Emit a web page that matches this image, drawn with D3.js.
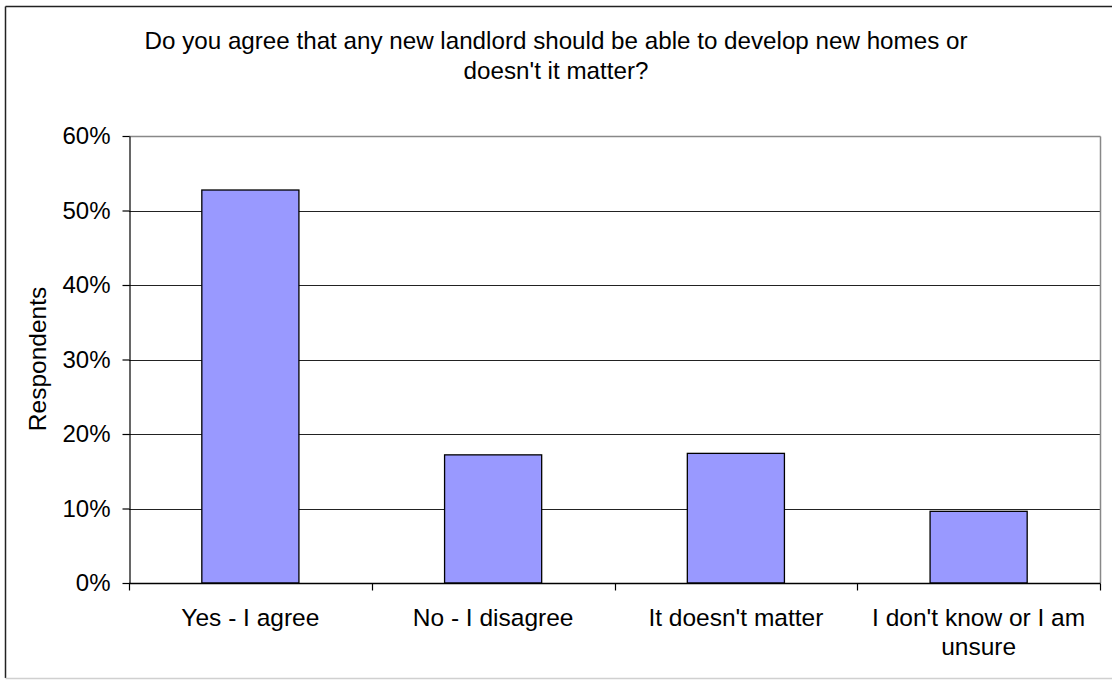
<!DOCTYPE html>
<html>
<head>
<meta charset="utf-8">
<script src="https://cdn.jsdelivr.net/npm/d3@7"></script>
<style>
  html, body { margin: 0; padding: 0; background: #fff; }
  svg { display: block; font-family: "Liberation Sans", Arial, sans-serif; }
</style>
</head>
<body>
<svg id="chart" width="1112" height="680"></svg>
<script>
// Survey responses (share of respondents)
const categories = [
  ["Yes - I agree"],
  ["No - I disagree"],
  ["It doesn't matter"],
  ["I don't know or I am", "unsure"]
];
const values = [0.5275, 0.172, 0.174, 0.0962];
const yTicks = [0, 0.1, 0.2, 0.3, 0.4, 0.5, 0.6];
const titleLines = [
  "Do you agree that any new landlord should be able to develop new homes or",
  "doesn't it matter?"
];
const yLabel = "Respondents";

const svg = d3.select("#chart");
const W = 1112, H = 680;
const plot = { left: 129, right: 1100, top: 136, bottom: 583 };

// outer frame
svg.append("line").attr("x1", 5.5).attr("x2", W).attr("y1", 6.5).attr("y2", 6.5)
  .attr("stroke", "#222").attr("stroke-width", 1.5);
svg.append("line").attr("x1", 5.5).attr("x2", 5.5).attr("y1", 6.5).attr("y2", 678)
  .attr("stroke", "#222").attr("stroke-width", 1.5);
svg.append("line").attr("x1", 5.5).attr("x2", W).attr("y1", 678.5).attr("y2", 678.5)
  .attr("stroke", "#d0d0d0").attr("stroke-width", 1.5);

// title
svg.append("text")
  .attr("x", 556).attr("y", 49)
  .attr("text-anchor", "middle")
  .attr("font-size", 24.2)
  .attr("fill", "#000")
  .selectAll("tspan").data(titleLines).join("tspan")
  .attr("x", 556).attr("dy", (d, i) => i === 0 ? 0 : 30)
  .text(d => d);

const x = d3.scaleBand()
  .domain(categories.map((d, i) => i))
  .range([plot.left, plot.right])
  .paddingInner(0.6).paddingOuter(0.3);

const xBoundary = d3.scaleLinear()
  .domain([0, categories.length])
  .range([plot.left, plot.right]);

const y = d3.scaleLinear().domain([0, 0.6]).range([plot.bottom, plot.top]);

// gridlines
svg.append("g")
  .selectAll("line").data(yTicks.filter(t => t > 0 && t < 0.6)).join("line")
  .attr("x1", plot.left).attr("x2", plot.right)
  .attr("y1", d => Math.round(y(d)) + 0.5).attr("y2", d => Math.round(y(d)) + 0.5)
  .attr("stroke", "#222").attr("stroke-width", 1.2);

// plot area top and right edges
svg.append("line")
  .attr("x1", plot.left).attr("x2", plot.right + 0.5)
  .attr("y1", Math.round(y(0.6)) + 0.5).attr("y2", Math.round(y(0.6)) + 0.5)
  .attr("stroke", "#888").attr("stroke-width", 1.5);
svg.append("line")
  .attr("x1", plot.right + 0.5).attr("x2", plot.right + 0.5)
  .attr("y1", Math.round(y(0.6)) + 0.5).attr("y2", plot.bottom)
  .attr("stroke", "#888").attr("stroke-width", 1.5);

// bars
svg.append("g")
  .selectAll("rect").data(values).join("rect")
  .attr("x", (d, i) => x(i))
  .attr("y", d => y(d))
  .attr("width", x.bandwidth())
  .attr("height", d => plot.bottom - y(d))
  .attr("fill", "#9999ff")
  .attr("stroke", "#000")
  .attr("stroke-width", 1.3);

// y axis
const yAxis = d3.axisLeft(y)
  .tickValues(yTicks)
  .tickFormat(d3.format(".0%"))
  .tickSize(7)
  .tickPadding(12)
  .tickSizeOuter(0);
const gy = svg.append("g")
  .attr("transform", `translate(${plot.left + 0.5},0)`)
  .call(yAxis);
gy.select(".domain").attr("stroke", "#000").attr("stroke-width", 1.2);
gy.selectAll(".tick line").attr("stroke", "#000").attr("stroke-width", 1.2);
gy.selectAll(".tick text")
  .attr("font-size", 24)
  .attr("font-family", "Liberation Sans, Arial, sans-serif")
  .attr("fill", "#000");

// x axis with ticks at category boundaries
const gx = svg.append("g").attr("transform", `translate(0,${plot.bottom + 0.5})`);
gx.append("line")
  .attr("x1", plot.left).attr("x2", plot.right + 0.5)
  .attr("stroke", "#000").attr("stroke-width", 1.3);
gx.selectAll("line.tick").data(d3.range(categories.length + 1)).join("line")
  .attr("class", "tick")
  .attr("x1", d => Math.round(xBoundary(d)) + 0.5)
  .attr("x2", d => Math.round(xBoundary(d)) + 0.5)
  .attr("y1", 0).attr("y2", 7)
  .attr("stroke", "#000").attr("stroke-width", 1.2);

// category labels
svg.append("g")
  .selectAll("text").data(categories).join("text")
  .attr("text-anchor", "middle")
  .attr("font-size", 24.5)
  .attr("fill", "#000")
  .attr("y", 626)
  .each(function (lines, i) {
    const cx = x(i) + x.bandwidth() / 2;
    d3.select(this).selectAll("tspan").data(lines).join("tspan")
      .attr("x", cx)
      .attr("dy", (d, j) => j === 0 ? 0 : 29)
      .text(d => d);
  });

// y axis title
svg.append("text")
  .attr("transform", "translate(46,359) rotate(-90)")
  .attr("text-anchor", "middle")
  .attr("font-size", 24.5)
  .attr("fill", "#000")
  .text(yLabel);
</script>
</body>
</html>
